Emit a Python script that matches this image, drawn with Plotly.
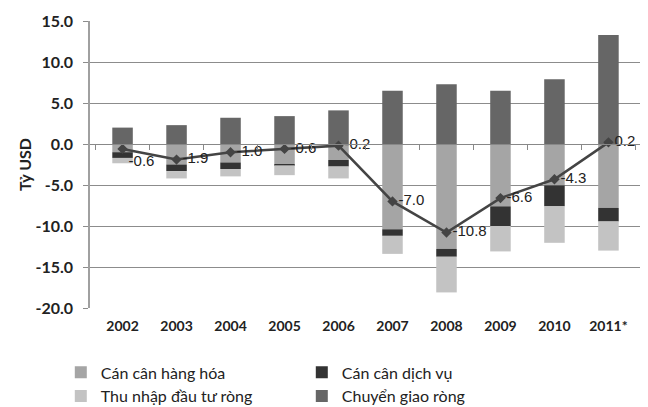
import plotly.graph_objects as go

years = ["2002", "2003", "2004", "2005", "2006", "2007", "2008", "2009", "2010", "2011*"]
can_can_hang_hoa = [-1.0, -2.5, -2.25, -2.45, -1.95, -10.4, -12.8, -7.6, -5.05, -7.8]
can_can_dich_vu = [-0.7, -0.8, -0.8, -0.15, -0.8, -0.8, -0.95, -2.4, -2.55, -1.65]
thu_nhap_dau_tu = [-0.65, -0.9, -0.9, -1.2, -1.45, -2.2, -4.35, -3.1, -4.45, -3.55]
chuyen_giao = [2.0, 2.3, 3.2, 3.4, 4.1, 6.5, 7.3, 6.5, 7.9, 13.3]
can_can_vang_lai = [-0.6, -1.9, -1.0, -0.6, -0.2, -7.0, -10.8, -6.6, -4.3, 0.2]
label_pos = ["bottom right"] + ["middle right"] * 9
y_ticks = [15, 10, 5, 0, -5, -10, -15, -20]
y_tick_text = [f"{v:.1f}" for v in y_ticks]

fig = go.Figure()
series = [
    ("Cán cân hàng hóa", can_can_hang_hoa, "#a5a5a5"),
    ("Cán cân dịch vụ", can_can_dich_vu, "#333333"),
    ("Thu nhập đầu tư ròng", thu_nhap_dau_tu, "#c3c3c3"),
    ("Chuyển giao ròng", chuyen_giao, "#666666"),
]
for name, vals, col in series:
    fig.add_trace(go.Bar(x=years, y=vals, name=name, marker=dict(color=col, line=dict(width=0))))

fig.add_trace(go.Scatter(
    x=years, y=can_can_vang_lai, mode="lines+markers+text",
    line=dict(color="#444444", width=2.5),
    marker=dict(symbol="diamond", size=8, color="#444444"),
    text=[f"{v:.1f}" for v in can_can_vang_lai],
    textposition=label_pos,
    textfont=dict(family="Liberation Sans Narrow, Liberation Sans", size=15, color="#222222"),
    showlegend=False, cliponaxis=False,
))

# invisible trace for the zero-line category axis ticks
fig.add_trace(go.Scatter(x=years, y=[0] * len(years), xaxis="x2", mode="markers",
                         marker=dict(opacity=0), showlegend=False, hoverinfo="skip"))

fig.update_layout(
    width=640, height=399,
    margin=dict(l=82, r=7, t=13, b=99, autoexpand=False),
    paper_bgcolor="white", plot_bgcolor="white",
    barmode="relative", bargap=0.62,
    font=dict(family="Lato", color="#222222"),
    xaxis=dict(type="category", categoryorder="array", categoryarray=years,
               showgrid=False, showline=False, ticks="", automargin=False,
               ticklabelstandoff=8,
               tickfont=dict(family="Lato", size=14, color="#222222", weight="bold")),
    xaxis2=dict(type="category", categoryorder="array", categoryarray=years,
                overlaying="x", anchor="free", position=20 / 35, side="bottom",
                showticklabels=False, showgrid=False, showline=True, linecolor="#888888",
                linewidth=1, ticks="outside", ticklen=5, tickcolor="#888888",
                tickson="boundaries", matches="x", automargin=False),
    yaxis=dict(range=[-20, 15], tickvals=y_ticks, ticktext=y_tick_text, automargin=False,
               showgrid=True, gridcolor="#8c8c8c", gridwidth=1,
               zeroline=False, showline=True, linecolor="#a0a0a0", linewidth=1.5,
               ticks="outside", ticklen=5, tickcolor="#8c8c8c", ticklabelstandoff=7,
               tickfont=dict(family="Lato", size=16, color="#222222", weight="bold"),
               title=dict(text="Tỷ USD", font=dict(family="Lato", size=16, weight="bold", color="#222222"),
                          standoff=0)),
    legend=dict(orientation="h", x=-0.053, y=-0.165, xanchor="left", yanchor="top",
                entrywidth=196, entrywidthmode="pixels", traceorder="normal",
                font=dict(family="Lato", size=16, color="#222222"), itemwidth=30,
                tracegroupgap=0),
)

fig.write_html("out.html")
